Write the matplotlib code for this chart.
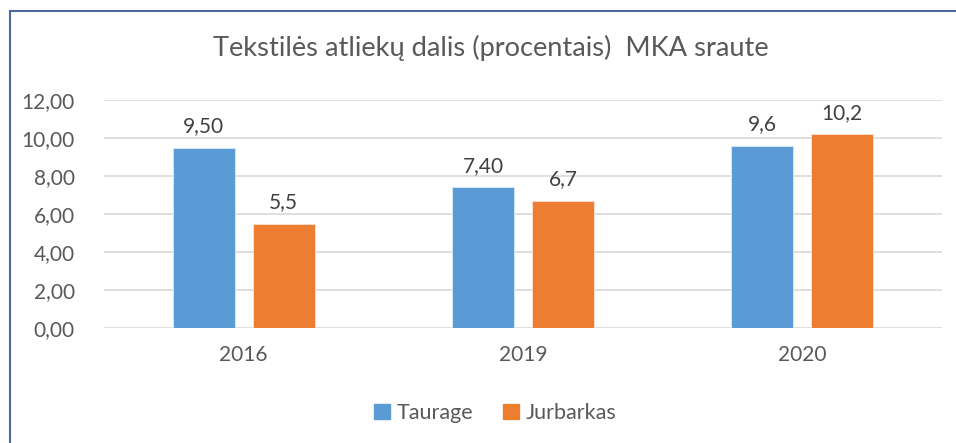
import matplotlib
matplotlib.use("Agg")
import matplotlib.pyplot as plt
import numpy as np
from matplotlib.lines import Line2D

categories = ["2016", "2019", "2020"]
taurage = [9.50, 7.40, 9.6]
jurbarkas = [5.5, 6.7, 10.2]
taurage_labels = ["9,50", "7,40", "9,6"]
jurbarkas_labels = ["5,5", "6,7", "10,2"]
yticks = [0, 2, 4, 6, 8, 10, 12]
ytick_labels = ["0,00", "2,00", "4,00", "6,00", "8,00", "10,00", "12,00"]

plt.rcParams['font.family'] = ['Lato', 'DejaVu Sans']
txt = '#595959'
blue = '#5B9BD5'
orange = '#ED7D31'

fig = plt.figure(figsize=(9.56, 4.43), dpi=100)
ax = fig.add_axes([104/956, 1-328/443, (942-104)/956, (328-100)/443])

x = np.arange(len(categories))
w = 0.222
off = 0.143
ax.bar(x - off, taurage, w, color=blue, edgecolor='#DDEBF7', linewidth=0.6, zorder=3, label='Taurage')
ax.bar(x + off, jurbarkas, w, color=orange, edgecolor='#FBE5D6', linewidth=0.6, zorder=3, label='Jurbarkas')
for xi, v, l in zip(x, taurage, taurage_labels):
    ax.text(xi - off, v + 0.6, l, ha='center', va='bottom', fontsize=15, color='#404040')
for xi, v, l in zip(x, jurbarkas, jurbarkas_labels):
    ax.text(xi + off, v + 0.6, l, ha='center', va='bottom', fontsize=15, color='#404040')

ax.set_xlim(-0.5, 2.5)
ax.set_ylim(0, 12)
ax.set_yticks(yticks)
ax.set_yticklabels(ytick_labels)
ax.set_xticks(x)
ax.set_xticklabels(categories)
ax.tick_params(axis='both', length=0, labelsize=15, labelcolor=txt)
ax.tick_params(axis='y', pad=21)
ax.tick_params(axis='x', pad=12)
ax.grid(axis='y', color='#D9D9D9', linewidth=1.2, zorder=0)
for s in ax.spines.values():
    s.set_visible(False)

fig.text(491/956, 1-48/443, "Tekstilės atliekų dalis (procentais)  MKA sraute",
         ha='center', va='center', fontsize=19.6, color=txt)

handles = [plt.Rectangle((0, 0), 1, 1, color=blue), plt.Rectangle((0, 0), 1, 1, color=orange)]
fig.legend(handles, ['Taurage', 'Jurbarkas'], loc='center', bbox_to_anchor=(495/956, 1-413/443),
           ncol=2, frameon=False, fontsize=15.5, handlelength=0.75, handleheight=0.75,
           handletextpad=0.3, columnspacing=1.4, labelcolor=txt)

border = '#4F6A9A'
fig.add_artist(Line2D([10/956, 10/956], [0, 1-11/443], color=border, linewidth=1.5, transform=fig.transFigure))
fig.add_artist(Line2D([10/956, 1], [1-11/443, 1-11/443], color=border, linewidth=1.5, transform=fig.transFigure))

fig.savefig('out.png', dpi=100)
